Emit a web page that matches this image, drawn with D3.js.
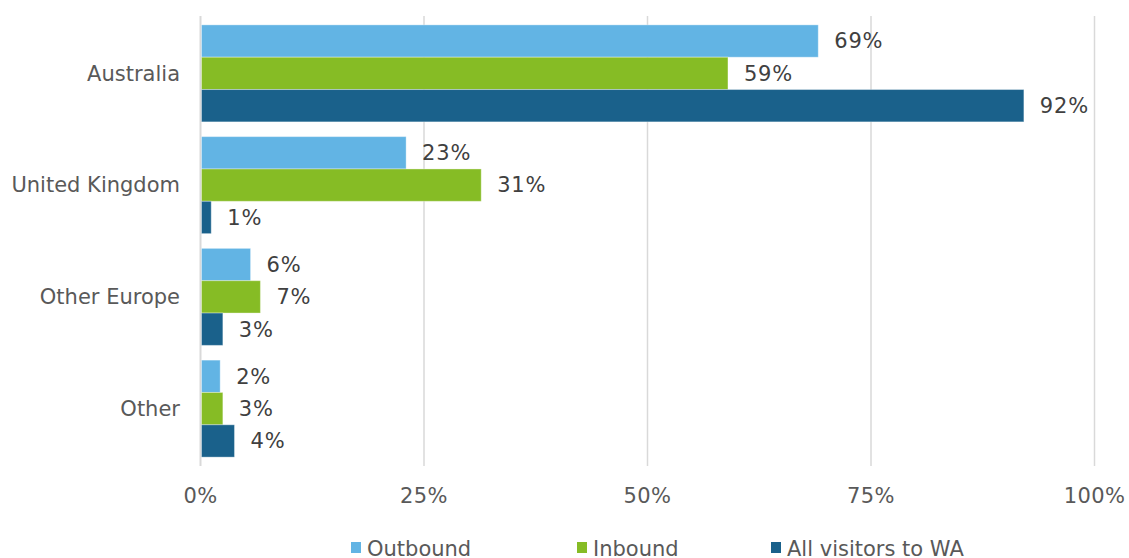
<!DOCTYPE html>
<html>
<head>
<meta charset="utf-8">
<script src="https://cdn.jsdelivr.net/npm/d3@7"></script>
<style>
  body { margin: 0; background: #fff; }
  svg text { font-family: Verdana, "DejaVu Sans", sans-serif; }
</style>
</head>
<body>
<div id="chart"></div>
<script>
// Data.
const categories = ['Australia', 'United Kingdom', 'Other Europe', 'Other'];
const seriesNames = ['Outbound', 'Inbound', 'All visitors to WA'];
const outbound = [0.691, 0.23, 0.056, 0.022];
const inbound = [0.59, 0.314, 0.067, 0.025];
const allVisitors = [0.921, 0.012, 0.025, 0.038];
const xTicks = [0, 0.25, 0.5, 0.75, 1];

const colors = ['#62b4e4', '#86bc25', '#1a618b'];
const seriesValues = [outbound, inbound, allVisitors];

// SVG constants.
const width = 1129;
const height = 558;
const plotLeft = 200.5, plotRight = 1094.5, plotTop = 17.5, plotBottom = 464.5;

const svg = d3.select('#chart')
              .append('svg')
              .attr('width', width)
              .attr('height', height);

const x = d3.scaleLinear().domain([0, 1]).range([plotLeft, plotRight]);
const y = d3.scaleBand()
            .domain(categories)
            .range([plotTop, plotBottom])
            .paddingInner(0.132)
            .paddingOuter(0.066);
const ySub = d3.scaleBand()
               .domain(seriesNames)
               .range([0, y.bandwidth()]);

// Gridlines.
svg.append('g')
   .selectAll('line')
   .data(xTicks)
   .enter()
   .append('line')
   .attr('x1', (d) => x(d))
   .attr('x2', (d) => x(d))
   .attr('y1', 16)
   .attr('y2', 466)
   .attr('stroke', '#d9d9d9')
   .attr('stroke-width', (d) => d === 0 ? 2 : 1.5);

// Tick labels.
svg.append('g')
   .selectAll('text')
   .data(xTicks)
   .enter()
   .append('text')
   .attr('x', (d) => x(d))
   .attr('y', 503)
   .attr('text-anchor', 'middle')
   .attr('font-size', 21)
   .attr('letter-spacing', 0.4)
   .attr('fill', '#595959')
   .text(d3.format('.0%'));

// Category labels.
svg.append('g')
   .selectAll('text')
   .data(categories)
   .enter()
   .append('text')
   .attr('x', 180)
   .attr('y', (d) => y(d) + y.bandwidth() / 2)
   .attr('dy', '0.35em')
   .attr('text-anchor', 'end')
   .attr('font-size', 21)
   .attr('fill', '#595959')
   .text((d) => d);

// Bars.
const rows = [];
categories.forEach((c, i) => {
    seriesNames.forEach((s, j) => {
        rows.push({ category: c, series: s, value: seriesValues[j][i], color: colors[j] });
    });
});

svg.append('g')
   .selectAll('rect')
   .data(rows)
   .enter()
   .append('rect')
   .attr('x', x(0) + 1)
   .attr('y', (d) => y(d.category) + ySub(d.series))
   .attr('width', (d) => x(d.value) - x(0) - 1)
   .attr('height', ySub.bandwidth())
   .attr('fill', (d) => d.color)
   .attr('stroke', '#ffffff')
   .attr('stroke-opacity', 0.35)
   .attr('stroke-width', 1);

// Data labels.
svg.append('g')
   .selectAll('text')
   .data(rows)
   .enter()
   .append('text')
   .attr('x', (d) => x(d.value) + 16)
   .attr('y', (d) => y(d.category) + ySub(d.series) + ySub.bandwidth() / 2)
   .attr('dy', '0.35em')
   .attr('font-size', 21)
   .attr('letter-spacing', 0.8)
   .attr('fill', '#404040')
   .text((d) => d3.format('.0%')(d.value));

// Legend.
const legendX = [351, 577, 771];
const legend = svg.append('g')
                  .selectAll('g')
                  .data(seriesNames)
                  .enter()
                  .append('g')
                  .attr('transform', (d, i) => 'translate(' + legendX[i] + ',542)');
legend.append('rect')
      .attr('width', 10)
      .attr('height', 11)
      .attr('fill', (d, i) => colors[i]);
legend.append('text')
      .attr('x', 16)
      .attr('y', 14)
      .attr('font-size', 21)
      .attr('fill', '#595959')
      .text((d) => d);
</script>
</body>
</html>
